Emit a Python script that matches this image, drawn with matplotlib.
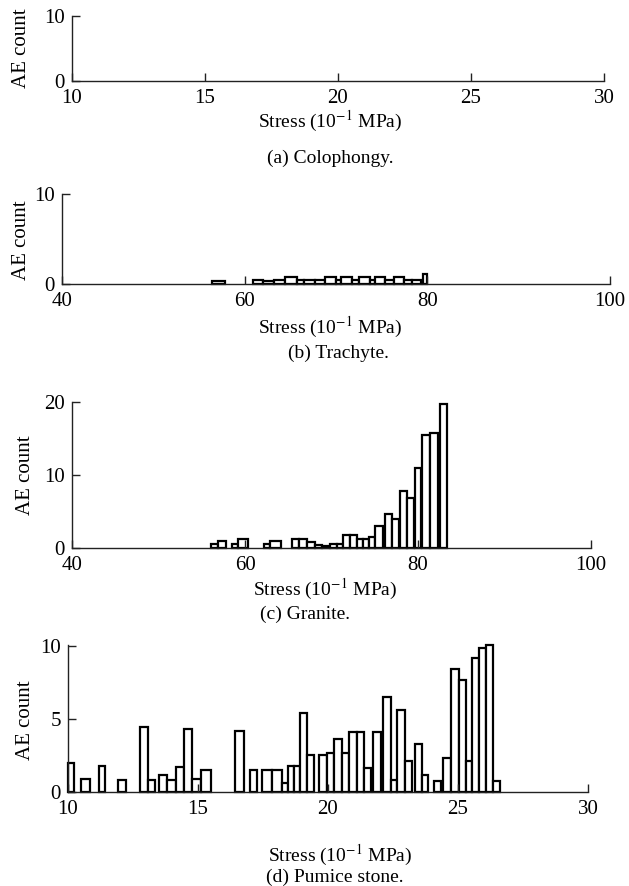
import numpy as np
import matplotlib
matplotlib.use('Agg')
import matplotlib.pyplot as plt

plt.rcParams['font.family'] = ['Liberation Serif', 'DejaVu Serif']
plt.rcParams['mathtext.fontset'] = 'stix'

# (a) Colophongy - no AE events recorded
a_left = []
a_right = []
a_count = []

# (b) Trachyte
b_left = [56.4, 60.9, 62.0, 63.2, 64.4, 65.7, 66.5, 67.7, 68.8, 70.0, 70.6,
          71.7, 72.5, 73.7, 74.3, 75.4, 76.4, 77.4, 78.3, 79.5]
b_right = [57.9, 62.0, 63.2, 64.4, 65.7, 66.5, 67.7, 68.8, 70.0, 70.6, 71.7,
           72.5, 73.7, 74.3, 75.4, 76.4, 77.4, 78.3, 79.3, 80.0]
b_count = [0.3, 0.5, 0.35, 0.45, 0.75, 0.4, 0.4, 0.4, 0.8, 0.5, 0.8,
           0.5, 0.8, 0.5, 0.8, 0.5, 0.8, 0.5, 0.4, 1.1]

# (c) Granite
c_left = [56.1, 56.9, 58.5, 59.2, 62.2, 62.9, 65.4, 66.3, 67.2, 68.1, 68.9,
          69.8, 70.6, 71.3, 72.1, 72.9, 73.6, 74.3, 75.0, 76.2, 77.0, 77.9,
          78.7, 79.6, 80.5, 81.4, 82.5]
c_right = [56.9, 57.8, 59.2, 60.3, 62.9, 64.2, 66.3, 67.2, 68.1, 68.9, 69.8,
           70.6, 71.3, 72.1, 72.9, 73.6, 74.3, 75.0, 75.9, 77.0, 77.8, 78.7,
           79.5, 80.4, 81.4, 82.3, 83.4]
c_count = [0.6, 0.9, 0.6, 1.3, 0.6, 0.9, 1.3, 1.3, 0.8, 0.4, 0.3,
           0.6, 0.6, 1.8, 1.8, 1.2, 1.2, 1.5, 3.0, 4.7, 4.0, 7.8,
           6.8, 10.9, 15.5, 15.7, 19.7]

# (d) Pumice stone
d_left = [10.0, 10.51, 11.19, 11.93, 12.76, 13.07, 13.49, 13.81, 14.15, 14.45,
          14.77, 15.12, 16.41, 16.99, 17.48, 17.86, 18.22, 18.46, 18.68, 18.93,
          19.20, 19.67, 19.97, 20.23, 20.54, 20.79, 21.11, 21.39, 21.74, 22.10,
          22.41, 22.67, 22.98, 23.33, 23.61, 24.08, 24.43, 24.72, 25.03, 25.31,
          25.53, 25.82, 26.07, 26.36]
d_right = [10.23, 10.83, 11.42, 12.24, 13.07, 13.35, 13.81, 14.15, 14.45, 14.77,
           15.12, 15.49, 16.75, 17.25, 17.86, 18.22, 18.46, 18.68, 18.93, 19.20,
           19.46, 19.97, 20.23, 20.54, 20.79, 21.11, 21.39, 21.67, 22.02, 22.41,
           22.67, 22.98, 23.23, 23.61, 23.83, 24.36, 24.72, 25.03, 25.31, 25.53,
           25.82, 26.07, 26.36, 26.61]
d_count = [2.0, 0.9, 1.8, 0.8, 4.5, 0.8, 1.2, 0.8, 1.7, 4.35,
           0.9, 1.5, 4.2, 1.5, 1.5, 1.5, 0.6, 1.8, 1.8, 5.45,
           2.55, 2.55, 2.7, 3.65, 2.7, 4.15, 4.15, 1.65, 4.15, 6.5,
           0.85, 5.6, 2.1, 3.3, 1.2, 0.75, 2.35, 8.45, 7.7, 2.1,
           9.2, 9.9, 10.1, 0.75]

panels = [
    dict(left=a_left, right=a_right, count=a_count, xlim=(10, 30), xticks=[10, 15, 20, 25, 30],
         ylim=(0, 10), yticks=[0, 10], box=(72, 16, 604, 81),
         ylab=(22, 48), xlab=(330, 121), cap=(330, 158), caption='(a) Colophongy.'),
    dict(left=b_left, right=b_right, count=b_count, xlim=(40, 100), xticks=[40, 60, 80, 100],
         ylim=(0, 10), yticks=[0, 10], box=(62, 194, 610, 284),
         ylab=(22, 240), xlab=(330, 327), cap=(338, 353), caption='(b) Trachyte.'),
    dict(left=c_left, right=c_right, count=c_count, xlim=(40, 100), xticks=[40, 60, 80, 100],
         ylim=(0, 20), yticks=[0, 10, 20], box=(72, 402, 591, 548),
         ylab=(25, 475), xlab=(325, 589), cap=(305, 614), caption='(c) Granite.'),
    dict(left=d_left, right=d_right, count=d_count, xlim=(10, 30), xticks=[10, 15, 20, 25, 30],
         ylim=(0, 10.1), yticks=[0, 5, 10], box=(68, 645, 588, 792),
         ylab=(25, 720), xlab=(340, 855), cap=(335, 877), caption='(d) Pumice stone.'),
]

W, H = 629, 886
fig = plt.figure(figsize=(W / 100, H / 100), dpi=100)

for p in panels:
    x0, y0, x1, y1 = p['box']
    ax = fig.add_axes([x0 / W, 1 - y1 / H, (x1 - x0) / W, (y1 - y0) / H])
    left = np.array(p['left'])
    width = np.array(p['right']) - left
    if len(left):
        ax.bar(left, p['count'], width=width, align='edge', facecolor='white',
               edgecolor='black', linewidth=1.6, clip_on=False)
    ax.set_xlim(*p['xlim'])
    ax.set_ylim(*p['ylim'])
    ax.set_xticks(p['xticks'])
    ax.set_yticks(p['yticks'])
    for s in ['top', 'right']:
        ax.spines[s].set_visible(False)
    for s in ['left', 'bottom']:
        ax.spines[s].set_linewidth(1.0)
        ax.spines[s].set_color('#222222')
    ax.tick_params(direction='in', length=6, width=1.0, labelsize=15, color='#222222')
    ax.tick_params(axis='x', pad=6)
    ax.tick_params(axis='y', pad=5)
    fig.text(p['ylab'][0] / W, 1 - p['ylab'][1] / H, 'AE count', rotation=90,
             ha='center', va='center', fontsize=15)
    fig.text(p['xlab'][0] / W, 1 - p['xlab'][1] / H, r'Stress (10$^{-1}$ MPa)',
             ha='center', va='center', fontsize=14)
    fig.text(p['cap'][0] / W, 1 - p['cap'][1] / H, p['caption'],
             ha='center', va='center', fontsize=14)

fig.savefig('out.png', dpi=100)
